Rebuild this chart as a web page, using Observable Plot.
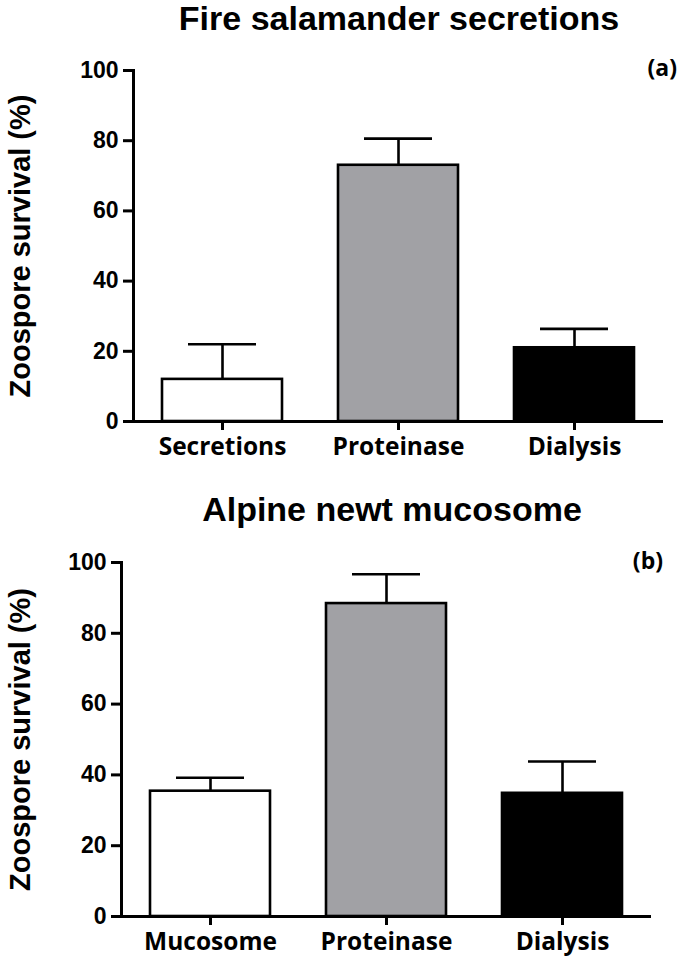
<!DOCTYPE html>
<html><head><meta charset="utf-8">
<script src="https://cdn.jsdelivr.net/npm/d3@7"></script>
<script src="https://cdn.jsdelivr.net/npm/@observablehq/plot@0.6"></script>
<style>
body{margin:0;background:#fff;}
#wrap{position:relative;width:681px;height:960px;overflow:hidden;background:#fff;}
.ttl{position:absolute;font-family:"Liberation Sans",Arial,sans-serif;font-weight:bold;font-size:34px;text-align:center;white-space:nowrap;line-height:1;color:#000;}
.tag{position:absolute;font-family:"Open Sans",sans-serif;font-weight:700;font-size:23px;line-height:1;color:#000;}
.panel{position:absolute;left:0;}
</style></head><body>
<div id="wrap">
  <div class="panel" id="pa" style="top:0;"></div>
  <div class="panel" id="pb" style="top:480px;"></div>
  <div class="ttl" style="left:0;width:798px;top:1px;">Fire salamander secretions</div>
  <div class="tag" style="right:4px;top:56px;">(a)</div>
  <div class="ttl" style="left:0;width:784px;top:492px;">Alpine newt mucosome</div>
  <div class="tag" style="right:18px;top:549px;">(b)</div>
</div>
<script>
// Panel (a): Fire salamander secretions
const categoriesA = ["Secretions", "Proteinase", "Dialysis"];
const meansA = [12, 73, 21];
const errorsA = [10, 7.6, 5.4];

// Panel (b): Alpine newt mucosome
const categoriesB = ["Mucosome", "Proteinase", "Dialysis"];
const meansB = [35.4, 88.4, 34.8];
const errorsB = [3.8, 8.3, 9.0];

const yTicks = [0, 20, 40, 60, 80, 100];
const yLabel = "Zoospore survival (%)";

const barFills = ["#ffffff", "#a1a1a5", "#000000"];

function panel(cats, means, errs, m) {
  const data = cats.map((c, i) => ({cat: c, mean: means[i], upper: means[i] + errs[i]}));
  return Plot.plot({
    width: 681,
    height: m.height,
    marginTop: m.top,
    marginBottom: m.bottom,
    marginLeft: m.left,
    marginRight: m.right,
    style: {fontFamily: "'Liberation Sans', Arial, sans-serif", background: "transparent", color: "black", overflow: "visible"},
    x: {domain: cats, paddingInner: 0.32, paddingOuter: 0.16, label: null, axis: null},
    y: {domain: [0, 100], label: null, axis: null},
    marks: [
      Plot.barY(data, {x: "cat", y: "mean", fill: (d, i) => barFills[i], stroke: "black", strokeWidth: 2.6}),
      Plot.ruleX(data, {x: "cat", y1: "mean", y2: "upper", stroke: "black", strokeWidth: 2.6}),
      Plot.tickY(data, {x: "cat", y: "upper", stroke: "black", strokeWidth: 2.6, inset: 26}),
      Plot.axisY({ticks: yTicks, tickSize: 10, tickPadding: 5, strokeWidth: 3, fontSize: 23, fontWeight: "bold", label: null}),
      Plot.axisX({tickSize: 9, tickPadding: 7, strokeWidth: 3, fontSize: 24.5, fontWeight: "bold", fontFamily: "'Open Sans', sans-serif", label: null}),
      Plot.ruleY([0], {stroke: "black", strokeWidth: 3}),
      Plot.frame({anchor: "left", stroke: "black", strokeWidth: 3}),
      Plot.text([yLabel], {frameAnchor: "left", dx: m.labelDx, rotate: -90, textAnchor: "middle", fontSize: 29, fontWeight: "bold"})
    ]
  });
}

document.getElementById("pa").appendChild(panel(categoriesA, meansA, errorsA,
  {height: 470, top: 70, bottom: 49, left: 133, right: 18, labelDx: -113}));
document.getElementById("pb").appendChild(panel(categoriesB, meansB, errorsB,
  {height: 480, top: 82, bottom: 44, left: 121, right: 30, labelDx: -101}));
</script>
</body></html>
